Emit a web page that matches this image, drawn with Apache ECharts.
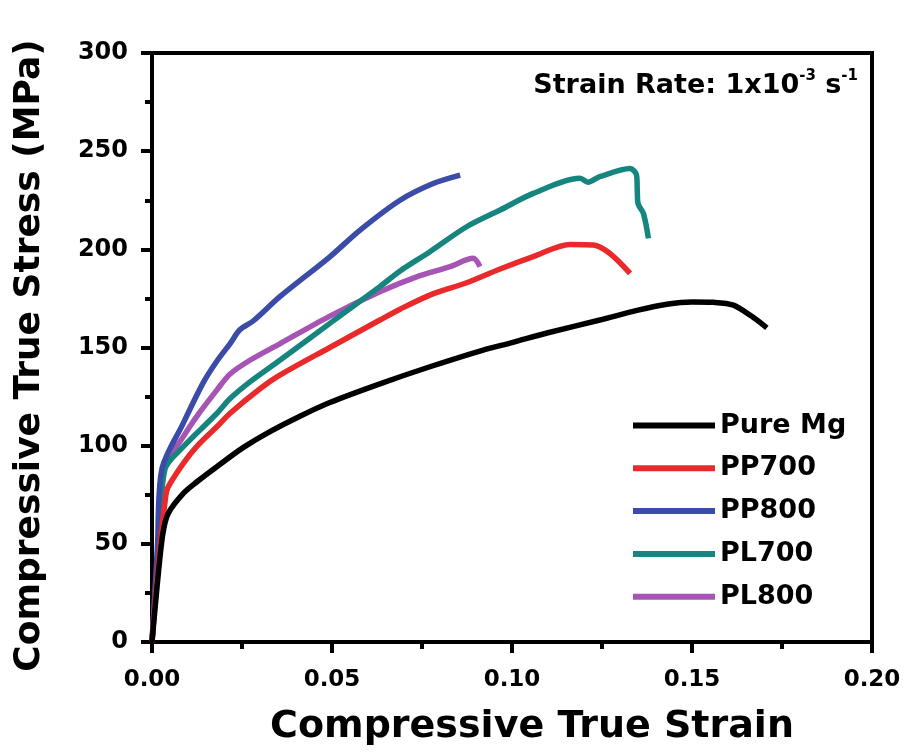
<!DOCTYPE html>
<html><head><meta charset="utf-8">
<script src="https://cdn.jsdelivr.net/npm/echarts@6/dist/echarts.min.js"></script>
<style>html,body{margin:0;padding:0;background:#fff}#c{width:906px;height:753px}</style>
</head><body><div id="c"></div>
<script>
const seriesNames = ['Pure Mg','PP700','PP800','PL700','PL800'];
const pureMg = [[0,0],[0.0015,30],[0.003,55],[0.0045,65.5],[0.0087,75.7],[0.0124,81.5],[0.018,89.3],[0.0253,99],[0.0319,106.3],[0.0411,115],[0.0494,122],[0.0633,131.5],[0.0772,140.2],[0.092,148.7],[0.1,152.5],[0.11,157.5],[0.1244,164],[0.135,169],[0.143,172],[0.15,173.2],[0.156,173],[0.1615,171.6],[0.1665,166],[0.1708,160]];
const pp700 = [[0,0],[0.002,45],[0.0038,74],[0.0045,79],[0.0087,91],[0.0124,99.5],[0.018,109.6],[0.0217,116.5],[0.030,129],[0.0356,136],[0.0494,150],[0.0633,164],[0.0689,169.5],[0.0772,176.7],[0.0874,183],[0.0967,190],[0.1059,196.3],[0.1161,202.5],[0.1226,202.2],[0.1272,197.9],[0.1328,187.8]];
const pp800 = [[0,0],[0.0015,48],[0.0027,87.6],[0.0087,111.5],[0.0142,132],[0.018,143],[0.0217,152],[0.0244,159],[0.0281,163.5],[0.0356,176],[0.0494,196.2],[0.0578,209.8],[0.0689,225],[0.0781,233.5],[0.0856,237.8]];
const pl700 = [[0,0],[0.0018,45],[0.0036,88],[0.0087,99.5],[0.018,116.4],[0.0217,124],[0.0272,132.5],[0.0356,143.6],[0.0494,162.3],[0.0633,181],[0.0689,189],[0.0772,198.8],[0.0874,211.5],[0.0967,220],[0.1059,228.5],[0.1189,236.2],[0.1211,234.2],[0.1244,237],[0.1328,241.2],[0.1346,237.8],[0.1348,230],[0.1350,223.4],[0.1365,218.3],[0.1379,205.6]];
const pl800 = [[0,0],[0.0018,50],[0.0031,87.6],[0.0087,104.6],[0.0124,114.8],[0.018,128.3],[0.0217,136.5],[0.0272,143.5],[0.0356,152],[0.0494,166],[0.0633,178.4],[0.0735,186],[0.0828,191.2],[0.0892,195.4],[0.0911,191.2]];
const xTicks = [0,0.05,0.10,0.15,0.20];
const yTicks = [0,50,100,150,200,250,300];
const colors = ['#000000','#ea2a2a','#3b4ba8','#17857f','#a755b5'];
const allData = [pureMg,pp700,pp800,pl700,pl800];

const FONT = '"DejaVu Sans", sans-serif';
const chart = echarts.init(document.getElementById('c'));
chart.setOption({
  animation:false,
  grid:{left:152,right:34,top:53,bottom:111,show:true,borderColor:'#000',borderWidth:4,backgroundColor:'#fff'},
  xAxis:{type:'value',min:xTicks[0],max:xTicks[xTicks.length-1],interval:0.05,
    axisLine:{lineStyle:{color:'#000',width:4}},
    axisTick:{inside:false,length:11,lineStyle:{color:'#000',width:4}},
    minorTick:{show:true,splitNumber:2,length:7,lineStyle:{color:'#000',width:4}},
    splitLine:{show:false},
    axisLabel:{color:'#000',fontFamily:FONT,fontWeight:'bold',fontSize:23,margin:27,formatter:v=>v.toFixed(2)},
    name:'Compressive True Strain',nameLocation:'middle',nameGap:66,
    nameTextStyle:{color:'#000',fontFamily:FONT,fontWeight:'bold',fontSize:38,padding:[0,0,0,40]}},
  yAxis:{type:'value',min:yTicks[0],max:yTicks[yTicks.length-1],interval:50,
    axisLine:{lineStyle:{color:'#000',width:4}},
    axisTick:{inside:false,length:11,lineStyle:{color:'#000',width:4}},
    minorTick:{show:true,splitNumber:2,length:7,lineStyle:{color:'#000',width:4}},
    splitLine:{show:false},
    axisLabel:{color:'#000',fontFamily:FONT,fontWeight:'bold',fontSize:24,margin:24},
    name:'Compressive True Stress (MPa)',nameLocation:'middle',nameGap:104,
    nameTextStyle:{color:'#000',fontFamily:FONT,fontWeight:'bold',fontSize:36,padding:[0,16,0,0]}},
  legend:{orient:'vertical',left:628,top:407,icon:'rect',itemWidth:82,itemHeight:6,itemGap:15.8,
    textStyle:{color:'#000',fontFamily:FONT,fontWeight:'bold',fontSize:27},
    data:seriesNames},
  graphic:[{type:'text',right:48,top:69,style:{
    text:'{a|Strain Rate: 1x10}{s|-3}{a| s}{s|-1}',
    rich:{a:{fontFamily:FONT,fontWeight:'bold',fontSize:27,fill:'#000',verticalAlign:'bottom'},
          s:{fontFamily:FONT,fontWeight:'bold',fontSize:15,fill:'#000',verticalAlign:'top',padding:[0,0,15,0]}}}}],
  series: allData.map((d,i)=>({name:seriesNames[i],type:'line',data:d,showSymbol:false,smooth:0.3,
    lineStyle:{width:5.5,color:colors[i]},itemStyle:{color:colors[i]},z:10-i}))
});
</script></body></html>
